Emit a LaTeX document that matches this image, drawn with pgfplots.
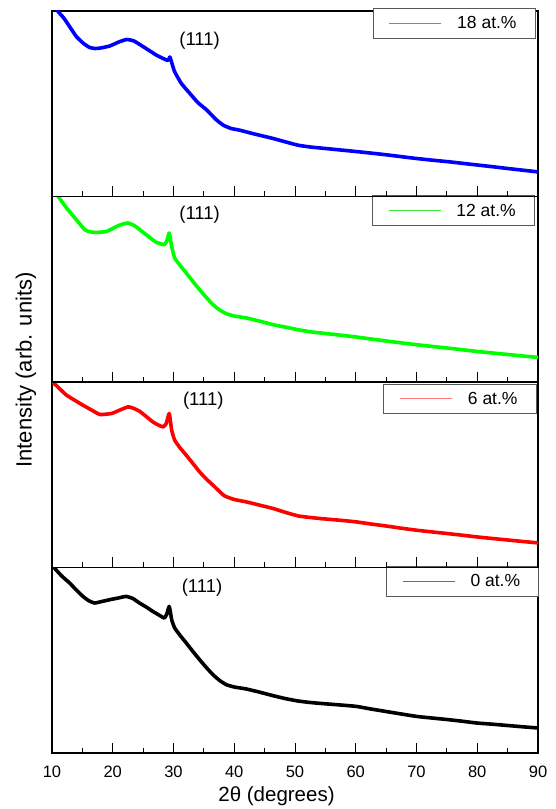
\documentclass[border=0pt]{standalone}
\usepackage{fontspec}
\setmainfont{Liberation Sans}
\usepackage{pgfplots}
\pgfplotsset{compat=1.18}

\definecolor{cBlue}{RGB}{0,0,255}
\definecolor{cGreen}{RGB}{0,255,0}
\definecolor{cRed}{RGB}{255,0,0}
\definecolor{cBlack}{RGB}{0,0,0}
\definecolor{lBlue}{RGB}{120,120,255}
\definecolor{lGreen}{RGB}{60,230,60}
\definecolor{lRed}{RGB}{255,120,120}
\definecolor{lBlack}{RGB}{110,110,110}

\newcommand{\tickfont}{\fontsize{16.5}{18}\selectfont}
\newcommand{\labfont}{\fontsize{17.5}{20}\selectfont}
\newcommand{\peakfont}{\fontsize{18.5}{20}\selectfont}

\pgfplotsset{
  panel/.style={
    scale only axis, width=486pt, height=185.5pt,
    anchor=south west,
    xmin=10, xmax=90, ymin=0, ymax=185.5,
    xtick={10,20,...,90}, minor x tick num=1,
    ytick=\empty, xtick pos=left, tick align=inside,
    major tick length=10pt, minor tick length=5pt,
    axis line style={line width=1.3pt},
    every tick/.style={black, line width=1pt},
    xticklabel style={font=\tickfont, anchor=base, yshift=-24pt},
    /pgf/number format/assume math mode=true,
    legend style={draw=black!65, line width=0.7pt, fill=white,
      font=\labfont, anchor=north east,
      inner xsep=16pt, inner ysep=5.5pt,
      nodes={inner sep=2.5pt},
      /tikz/every odd column/.append style={column sep=13pt}},
    legend image code/.code={\draw[#1] (0pt,0pt) -- (52pt,0pt);},
    every axis plot/.append style={line width=3.6pt, line join=round,
      smooth, tension=0.3},
  },
}

\begin{document}
\begin{tikzpicture}
\path[use as bounding box] (-52pt,-56pt) rectangle (503pt,753pt);

% 0 at.%
\begin{axis}[panel, at={(0pt,0pt)},
  ylabel={Intensity (arb. units)},
  ylabel style={font=\fontsize{22}{24}\selectfont, at={(axis description cs:-0.0535,2.065)}, anchor=center, rotate=0},
  xlabel={2θ (degrees)},
  xlabel style={font=\fontsize{20.5}{22}\selectfont, at={(axis description cs:0.462,-0.264)}, anchor=base},
  legend style={at={(axis description cs:1.002,1.007)}}]
\addplot[cBlack, forget plot] coordinates {
(10,188) (10.4,185) (11.6,177) (12.9,170) (14,163) (15.1,156.6) (16,152.5)
(17,150) (18.2,151.5) (19.5,153.3) (20.9,155) (22.2,156.6) (23.3,154.5)
(24.4,150) (25.5,146) (26.6,141.6) (27.6,138) (28.5,135) (28.9,139) (29.3,146.6)
(29.7,133.3) (30.2,125) (31.1,117.5) (32.1,110) (33.2,101.5) (34.3,93.3)
(35.4,85.5) (36.5,78.3) (37.6,72.5) (38.7,68.3) (40,66) (42,64) (44.2,60.8)
(46.4,57.3) (48.5,54.3) (50.5,52) (52.5,50.5) (55,49.2) (57.5,48) (60.1,46.6)
(62.5,44) (65,41.5) (67.5,39) (70,36.6) (72.5,35) (75,33.5) (77.5,31.8)
(79.9,30) (82.5,28.8) (85,27.5) (87.5,26.2) (90,25)};
\addlegendimage{lBlack, line width=0.8pt}
\addlegendentry{0 at.\%}
\node[font=\peakfont] at (axis cs:34.7,165) {(111)};
\end{axis}

% 6 at.%
\begin{axis}[panel, at={(0pt,185.5pt)}, xticklabels={},
  legend style={at={(axis description cs:0.9967,0.991)}}]
\addplot[cRed, forget plot] coordinates {
(10,186) (10.2,185) (11.3,178.5) (12.4,172.3) (13.8,167) (15.1,162.3)
(16.5,157.5) (17.9,153) (19.8,154) (21,157) (22.5,160.6) (23.5,159)
(24.4,156.3) (25.5,151) (26.6,145.6) (27.5,142.5) (28.3,140.6) (28.8,144)
(29.3,154) (29.7,137.3) (30.2,127.3) (31.1,119.5) (32.1,112.3) (33.2,104)
(34.3,95.6) (35.4,88.5) (36.5,82.3) (37.5,76.5) (38.4,71.6) (40,68) (42,65.6)
(44.2,62.3) (46.4,59) (48.5,55) (50.5,51.6) (52.5,50) (55,48.5) (57.5,47.2)
(60.1,45.6) (62.5,43.5) (65,41.5) (67.5,39.3) (70,37.3) (72.5,35.6) (75,34)
(77.5,32.3) (79.9,30.6) (82.5,29) (85,27.5) (87.5,26) (90,24.6)};
\addlegendimage{lRed, line width=0.8pt}
\addlegendentry{6 at.\%}
\node[font=\peakfont] at (axis cs:34.9,167) {(111)};
\end{axis}

% 12 at.%
\begin{axis}[panel, at={(0pt,371pt)}, xticklabels={},
  legend style={at={(axis description cs:0.993,1.0054)}}]
\addplot[cGreen, forget plot] coordinates {
(10,193) (11,185.6) (12.4,174) (14,162.3) (15.4,152.3) (16.2,150.3) (17,149.6)
(18,149.8) (19,150.6) (20,153.5) (20.9,156.3) (21.7,158) (22.5,159) (23.2,157.5)
(23.9,155) (24.7,151) (25.5,147.3) (26.4,143) (27.2,139.6) (27.9,138.2)
(28.5,137.3) (28.9,141) (29.3,149) (29.7,135.6) (30.2,124) (31.1,116.5)
(32.1,109) (33.2,100.5) (34.3,92.3) (35.4,84.5) (36.5,77.3) (37.6,72)
(38.7,68.3) (40,66) (42,64) (44.2,60.8) (46.4,57.3) (48.5,54.8) (50.5,52.3)
(52.5,50.2) (55,48.5) (57.5,46.8) (60.1,45) (62.5,43) (65,41) (67.5,39.1)
(70,37.3) (72.5,35.6) (75,34) (77.5,32.3) (79.9,30.6) (82.5,29) (85,27.5)
(87.5,26) (90,24.6)};
\addlegendimage{lGreen, line width=0.8pt}
\addlegendentry{12 at.\%}
\node[font=\peakfont] at (axis cs:34.3,167) {(111)};
\end{axis}

% 18 at.%
\begin{axis}[panel, at={(0pt,556.5pt)}, xticklabels={},
  legend style={at={(axis description cs:0.9947,1.0146)}}]
\addplot[cBlue, forget plot] coordinates {
(10,193) (11,185) (12,178) (13,169) (14,160) (15.2,153) (16.2,149) (17.1,148)
(18,148.5) (19.5,150.5) (21,154.5) (22.3,157) (23.5,155.5) (24.7,151) (26,146)
(27.2,141.3) (28.3,138) (29.1,136) (29.4,139.5) (29.8,132) (30.2,124.6)
(31.3,113) (32.7,103) (34,94) (35.5,86.3) (37,77) (38.2,71.3) (39.5,68)
(40.9,66.3) (43,63) (44.7,60.5) (46.4,58) (48.5,54.5) (50.5,51.3) (52.5,49.5)
(55,48) (57.5,46.5) (60,45) (62.8,43.2) (65.6,41.3) (67.8,39.6) (70,38)
(72.8,36.2) (75.5,34.6) (77.8,33) (80,31.5) (82.5,29.8) (85,28) (87.5,26.3)
(90,24.6)};
\addlegendimage{lBlue, line width=0.8pt}
\addlegendentry{18 at.\%}
\node[font=\peakfont] at (axis cs:34.3,156) {(111)};
\end{axis}
\end{tikzpicture}
\end{document}
